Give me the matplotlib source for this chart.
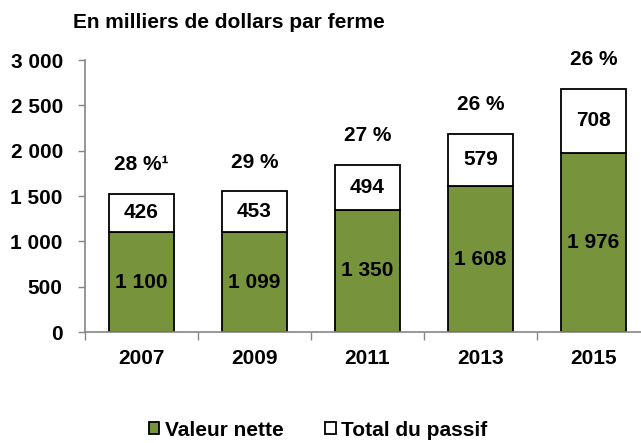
import matplotlib.pyplot as plt
import numpy as np

plt.rcParams['font.family'] = ['Liberation Sans', 'DejaVu Sans']
plt.rcParams['font.weight'] = 'bold'

# ---------- Data ----------
years = ["2007", "2009", "2011", "2013", "2015"]
valeur_nette = [1100, 1099, 1350, 1608, 1976]
total_passif = [426, 453, 494, 579, 708]
ratio_labels = ["28 %\u00b9", "29 %", "27 %", "26 %", "26 %"]
yticks = [0, 500, 1000, 1500, 2000, 2500, 3000]


def fmt(v):
    return "{:,}".format(v).replace(",", " ")


GREEN = "#77933C"
GRAY = "#868686"
FS = 15

fig = plt.figure(figsize=(6.41, 4.43), dpi=100)
ax = fig.add_axes([85 / 641, 111 / 443, 565 / 641, 272 / 443])

x = np.arange(len(years))
w = 0.58
b1 = ax.bar(x, valeur_nette, w, color=GREEN, edgecolor="black", linewidth=1.3,
            label="Valeur nette")
b2 = ax.bar(x, total_passif, w, bottom=valeur_nette, color="white",
            edgecolor="black", linewidth=1.3, label="Total du passif")

for i in range(len(years)):
    ax.text(x[i], valeur_nette[i] / 2, fmt(valeur_nette[i]), ha="center",
            va="center", fontsize=FS, fontweight="bold")
    ax.text(x[i], valeur_nette[i] + total_passif[i] / 2, fmt(total_passif[i]),
            ha="center", va="center", fontsize=FS, fontweight="bold")
    ax.annotate(ratio_labels[i], (x[i], valeur_nette[i] + total_passif[i]),
                xytext=(0, 21), textcoords="offset points", ha="center",
                va="center", fontsize=FS, fontweight="bold",
                annotation_clip=False)

ax.set_xlim(-0.5, len(years) - 0.5)
ax.set_ylim(0, 3000)
ax.set_yticks(yticks)
ax.set_yticklabels([fmt(v) for v in yticks], fontsize=FS, fontweight="bold")
ax.set_xticks(np.arange(len(years) + 1) - 0.5, minor=False)
ax.set_xticklabels([])
ax.set_xticks(x, minor=True)
ax.set_xticklabels(years, minor=True, fontsize=FS, fontweight="bold")
ax.tick_params(axis="x", which="minor", length=0, pad=12)
ax.tick_params(axis="x", which="major", length=6, color=GRAY, width=1)
ax.tick_params(axis="y", length=5, color=GRAY, width=1, pad=11)

for s in ["top", "right"]:
    ax.spines[s].set_visible(False)
for s in ["left", "bottom"]:
    ax.spines[s].set_color(GRAY)
    ax.spines[s].set_linewidth(1.2)

fig.text(73 / 641, 1 - 23 / 443, "En milliers de dollars par ferme",
         fontsize=FS, fontweight="bold", va="center")

leg = fig.legend(handles=[b1, b2], loc="center", bbox_to_anchor=(318 / 641, 1 - 430 / 443),
                 ncol=2, frameon=False, fontsize=FS, handlelength=0.5,
                 handleheight=0.5, handletextpad=0.25, columnspacing=2.0,
                 borderpad=0.1)
for t in leg.get_texts():
    t.set_fontweight("bold")

fig.savefig("out.png", dpi=100)
